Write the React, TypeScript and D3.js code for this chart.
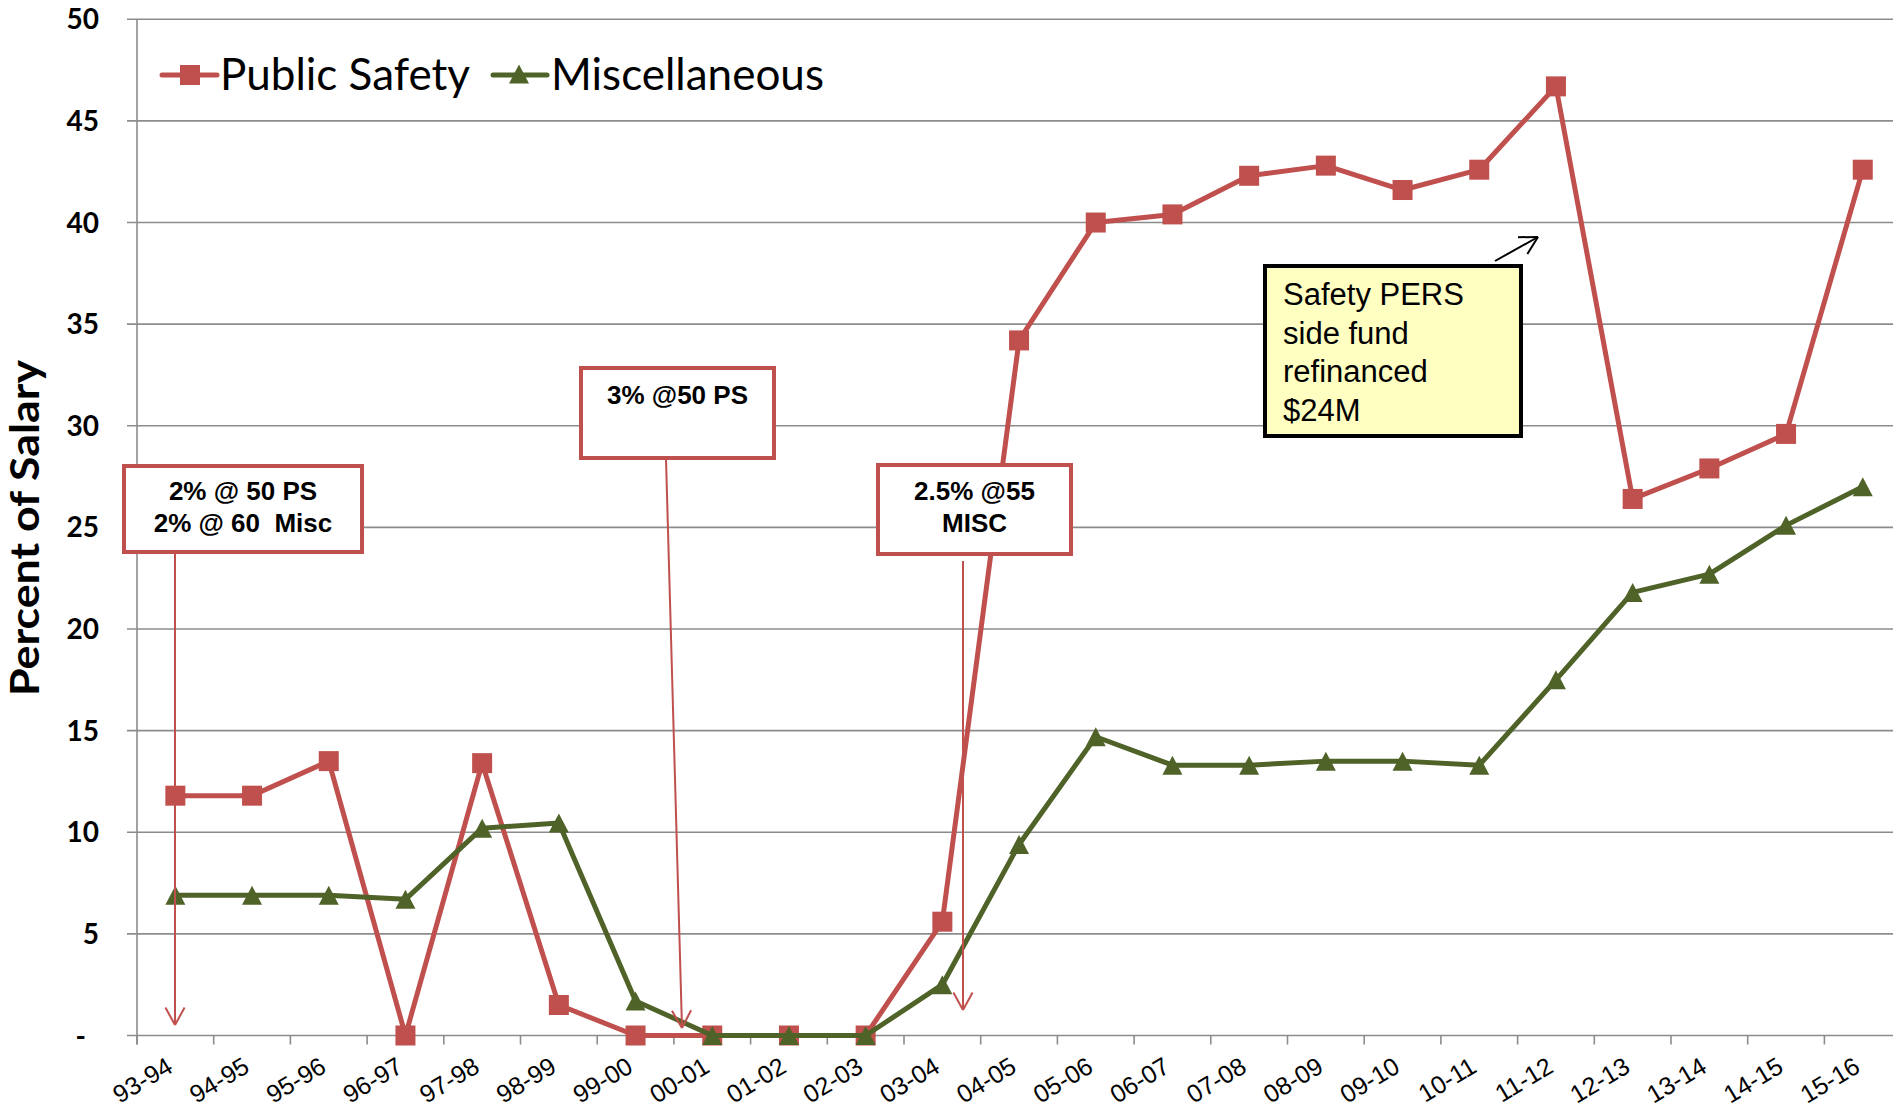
import React, { useRef, useEffect } from 'react';
import * as d3 from 'd3';

const seasons = [
  '93-94', '94-95', '95-96', '96-97', '97-98', '98-99', '99-00', '00-01',
  '01-02', '02-03', '03-04', '04-05', '05-06', '06-07', '07-08', '08-09',
  '09-10', '10-11', '11-12', '12-13', '13-14', '14-15', '15-16',
];
const publicSafety = [
  11.8, 11.8, 13.5, 0, 13.4, 1.5, 0, 0, 0, 0, 5.6, 34.2,
  40.0, 40.4, 42.3, 42.8, 41.6, 42.6, 46.7, 26.4, 27.9, 29.6, 42.6,
];
const miscellaneous = [
  6.9, 6.9, 6.9, 6.7, 10.2, 10.45, 1.7, 0, 0, 0, 2.5, 9.4,
  14.7, 13.3, 13.3, 13.5, 13.5, 13.3, 17.5, 21.8, 22.7, 25.1, 27.0,
];
const yTicks = [0, 5, 10, 15, 20, 25, 30, 35, 40, 45, 50];
const yTickLabels = ['-', '5', '10', '15', '20', '25', '30', '35', '40', '45', '50'];
const seriesNames = ['Public Safety', 'Miscellaneous'];

const RED = '#C0504D';
const GREEN = '#4F6228';
const GRID = '#8c8c8c';
const ARIAL = '"Liberation Sans", Arial, sans-serif';
const CALIBRI = 'Lato, "Noto Sans", sans-serif';

const PensionChart: React.FC = () => {
  const svgRef = useRef<SVGSVGElement>(null);

  useEffect(() => {
    if (!svgRef.current) return;
    const svg = d3.select(svgRef.current);
    svg.selectAll('*').remove();

    const width = 1893;
    const height = 1109;
    const left = 137;
    const step = 76.7;
    svg.attr('width', width).attr('height', height);

    const x = d3.scaleBand<string>()
      .domain(seasons)
      .range([left, left + step * seasons.length])
      .padding(0);
    const y = d3.scaleLinear().domain([0, 50]).range([1035.5, 19.3]);
    const cx = (s: string) => (x(s) as number) + x.bandwidth() / 2;

    // grid + y ticks
    const grid = svg.append('g');
    yTicks.forEach((t, i) => {
      grid.append('line')
        .attr('x1', left - 10).attr('x2', width)
        .attr('y1', y(t)).attr('y2', y(t))
        .attr('stroke', GRID).attr('stroke-width', 1.6);
      grid.append('text')
        .attr('x', t === 0 ? 86 : 99)
        .attr('y', y(t))
        .attr('dy', '0.36em')
        .attr('text-anchor', 'end')
        .attr('font-family', CALIBRI)
        .attr('font-weight', 'bold')
        .attr('font-size', 28)
        .text(yTickLabels[i]);
    });
    grid.append('line')
      .attr('x1', left).attr('x2', left)
      .attr('y1', y(50)).attr('y2', y(0) + 9)
      .attr('stroke', GRID).attr('stroke-width', 1.6);
    d3.range(seasons.length + 1).forEach(i => {
      grid.append('line')
        .attr('x1', left + i * step).attr('x2', left + i * step)
        .attr('y1', y(0)).attr('y2', y(0) + 9)
        .attr('stroke', GRID).attr('stroke-width', 1.6);
    });

    // x labels
    seasons.forEach(s => {
      svg.append('text')
        .attr('transform', `translate(${cx(s) - 1},${1071}) rotate(-31)`)
        .attr('text-anchor', 'end')
        .attr('font-family', ARIAL)
        .attr('font-size', 25)
        .text(s);
    });

    // y title
    svg.append('text')
      .attr('transform', `translate(39,528) rotate(-90)`)
      .attr('text-anchor', 'middle')
      .attr('font-family', CALIBRI)
      .attr('font-weight', 'bold')
      .attr('font-size', 41)
      .attr('textLength', 336)
      .attr('lengthAdjust', 'spacingAndGlyphs')
      .text('Percent of Salary');

    const line = d3.line<number>()
      .x((_, i) => cx(seasons[i]))
      .y(d => y(d));

    const tri = (px: number, py: number) =>
      `M${px},${py - 9.5}L${px + 10},${py + 9.5}L${px - 10},${py + 9.5}Z`;

    // Public Safety
    svg.append('path')
      .attr('d', line(publicSafety) as string)
      .attr('fill', 'none').attr('stroke', RED).attr('stroke-width', 5)
      .attr('stroke-linejoin', 'round');
    svg.append('g').selectAll('rect')
      .data(publicSafety)
      .enter().append('rect')
      .attr('x', (_, i) => cx(seasons[i]) - 10)
      .attr('y', d => y(d) - 10)
      .attr('width', 20).attr('height', 20)
      .attr('fill', RED);

    // Miscellaneous
    svg.append('path')
      .attr('d', line(miscellaneous) as string)
      .attr('fill', 'none').attr('stroke', GREEN).attr('stroke-width', 5)
      .attr('stroke-linejoin', 'round');
    svg.append('g').selectAll('path')
      .data(miscellaneous)
      .enter().append('path')
      .attr('d', (d, i) => tri(cx(seasons[i]), y(d)))
      .attr('fill', GREEN);

    // legend
    const lg = svg.append('g');
    lg.append('line').attr('x1', 162).attr('x2', 217).attr('y1', 75).attr('y2', 75)
      .attr('stroke', RED).attr('stroke-width', 5).attr('stroke-linecap', 'round');
    lg.append('rect').attr('x', 180).attr('y', 65).attr('width', 20).attr('height', 20).attr('fill', RED);
    lg.append('text').attr('x', 220).attr('y', 90)
      .attr('font-family', CALIBRI).attr('font-size', 44).text(seriesNames[0]);
    lg.append('line').attr('x1', 493).attr('x2', 547).attr('y1', 75).attr('y2', 75)
      .attr('stroke', GREEN).attr('stroke-width', 5).attr('stroke-linecap', 'round');
    lg.append('path').attr('d', tri(519, 74)).attr('fill', GREEN);
    lg.append('text').attr('x', 551).attr('y', 90)
      .attr('font-family', CALIBRI).attr('font-size', 44).text(seriesNames[1]);

    // annotations
    const arrow = (x1: number, y1: number, x2: number, y2: number, color: string) => {
      const g = svg.append('g').attr('stroke', color).attr('stroke-width', 2).attr('fill', 'none');
      g.append('line').attr('x1', x1).attr('y1', y1).attr('x2', x2).attr('y2', y2);
      const a = Math.atan2(y1 - y2, x1 - x2);
      [-0.5, 0.5].forEach(o => {
        g.append('line')
          .attr('x1', x2).attr('y1', y2)
          .attr('x2', x2 + 20 * Math.cos(a + o))
          .attr('y2', y2 + 20 * Math.sin(a + o));
      });
    };

    const box = (bx: number, by: number, bw: number, bh: number, lines: string[], baselines: number[]) => {
      svg.append('rect')
        .attr('x', bx).attr('y', by).attr('width', bw).attr('height', bh)
        .attr('fill', '#fff').attr('stroke', RED).attr('stroke-width', 4);
      lines.forEach((t, i) => {
        svg.append('text')
          .attr('x', bx + bw / 2).attr('y', baselines[i])
          .attr('text-anchor', 'middle')
          .style('white-space', 'pre')
          .attr('font-family', ARIAL).attr('font-weight', 'bold').attr('font-size', 26)
          .text(t);
      });
    };

    arrow(175, 546, 175, 1025, RED);
    arrow(666, 459, 682, 1028, RED);
    arrow(963, 561, 963, 1010, RED);

    box(124, 466, 238, 86, ['2% @ 50 PS', '2% @ 60  Misc'], [500, 532]);
    box(581, 368, 193, 90, ['3% @50 PS'], [404]);
    box(878, 465, 193, 89, ['2.5% @55', 'MISC'], [500, 532]);

    // refinance callout
    arrow(1495, 261, 1538, 237, '#000');
    svg.append('rect')
      .attr('x', 1265).attr('y', 266).attr('width', 256).attr('height', 170)
      .attr('fill', '#FFFFC2').attr('stroke', '#000').attr('stroke-width', 4);
    ['Safety PERS', 'side fund', 'refinanced', '$24M'].forEach((t, i) => {
      svg.append('text')
        .attr('x', 1283).attr('y', 305 + i * 38.5)
        .attr('font-family', ARIAL).attr('font-size', 31)
        .text(t);
    });
  }, []);

  return (
    <svg
      ref={svgRef}
      style={{ position: 'absolute', left: 0, top: 0, display: 'block', background: '#fff' }}
    ></svg>
  );
};

export default function App() {
  return <PensionChart />;
}
